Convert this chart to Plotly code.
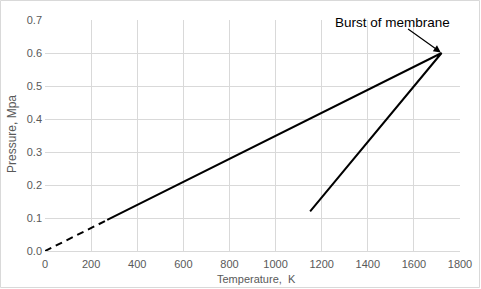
import plotly.graph_objects as go

dash_x = [0, 270]
dash_y = [0, 0.094]
solid_x = [270, 1720, 1150]
solid_y = [0.094, 0.6, 0.12]
burst = (1720, 0.6)
x_ticks = list(range(0, 1801, 200))
y_ticks = [0.0, 0.1, 0.2, 0.3, 0.4, 0.5, 0.6, 0.7]

W, H = 481, 289
L, R, T, B = 45, 21, 20, 38
pw, ph = W - L - R, H - T - B

fig = go.Figure()
fig.add_trace(go.Scatter(x=dash_x, y=dash_y, mode="lines",
                         line=dict(color="black", width=2, dash="7px,5px"),
                         showlegend=False, hoverinfo="skip"))
fig.add_trace(go.Scatter(x=solid_x, y=solid_y, mode="lines",
                         line=dict(color="black", width=2),
                         showlegend=False, hoverinfo="skip"))

# arrow only
fig.add_annotation(x=burst[0], y=burst[1], xref="x", yref="y",
                   text="", showarrow=True,
                   ax=-35, ay=-25, arrowhead=2, arrowsize=1.2, arrowwidth=1.2,
                   arrowcolor="black", standoff=1)
# label
fig.add_annotation(x=burst[0], y=burst[1], xref="x", yref="y",
                   text="Burst of membrane", showarrow=False,
                   xshift=-49, yshift=31,
                   font=dict(family="Liberation Sans, Arial", size=13.5, color="black"))

fig.add_shape(type="rect", xref="paper", yref="paper",
              x0=(-L + 0.5) / pw, x1=(pw + R - 1.5) / pw,
              y0=(-B + 1.5) / ph, y1=(ph + T - 0.5) / ph,
              line=dict(color="#d9d9d9", width=1), layer="below")

# axis titles
fig.add_annotation(xref="paper", yref="paper", x=(256 - L) / pw, y=(H - B - 279) / ph,
                   text="Temperature,  K", showarrow=False, xanchor="center", yanchor="middle",
                   font=dict(family="Liberation Sans, Arial", size=11, color="#595959"))
fig.add_annotation(xref="paper", yref="paper", x=(12 - L) / pw, y=(H - B - 134) / ph,
                   text="Pressure, Mpa", showarrow=False, textangle=-90,
                   xanchor="center", yanchor="middle",
                   font=dict(family="Liberation Sans, Arial", size=12, color="#595959"))

tickfont = dict(family="Liberation Sans, Arial", size=11, color="#595959")
fig.update_layout(
    width=W, height=H,
    margin=dict(l=L, r=R, t=T, b=B, autoexpand=False),
    paper_bgcolor="white", plot_bgcolor="white",
    xaxis=dict(range=[0, 1800], tickvals=x_ticks, ticktext=[str(v) for v in x_ticks],
               showgrid=True, gridcolor="#d9d9d9", gridwidth=1,
               showline=True, linecolor="#d9d9d9", linewidth=1,
               zeroline=False, ticks="", tickfont=tickfont, automargin=False,
               ticklabelstandoff=3),
    yaxis=dict(range=[0, 0.7], tickvals=y_ticks, ticktext=[f"{v:.1f}" for v in y_ticks],
               showgrid=True, gridcolor="#d9d9d9", gridwidth=1,
               showline=False, zeroline=False, ticks="", tickfont=tickfont, automargin=False,
               ticklabelstandoff=2),
)
fig.write_html("out.html")
